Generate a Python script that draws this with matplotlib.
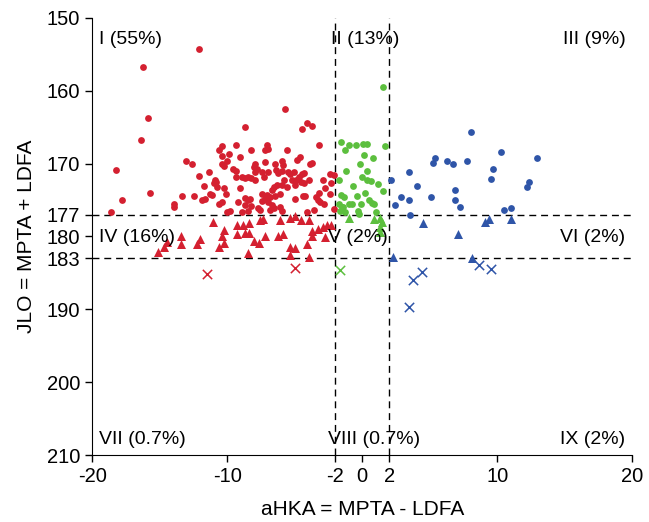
import numpy as np
import matplotlib.pyplot as plt

plt.rcParams['font.family'] = ['Liberation Sans', 'DejaVu Sans']
plt.rcParams['axes.unicode_minus'] = False

# quadrant I: varus-ish, red circles  (aHKA, JLO)
red_dots = [
    (-12.1, 154.3), (-16.25, 156.8), (-15.9, 163.7), (-16.4, 166.8), (-18.2, 170.9),
    (-17.8, 175.0), (-18.6, 176.7), (-5.7, 162.5),
    (-13.08, 169.7), (-12.59, 170.1), (-11.35, 171.2), (-12.1, 171.7), (-11.7, 173.1),
    (-10.86, 172.5), (-10.96, 172.7), (-15.7, 174.1), (-13.38, 174.5), (-12.49, 174.45),
    (-11.85, 175.0), (-11.65, 174.8), (-11.26, 174.2), (-11.11, 174.36), (-13.92, 175.6),
    (-13.97, 176.0),
    (-8.67, 165.0), (-10.4, 167.6), (-10.64, 168.2), (-9.36, 167.4), (-9.85, 168.7),
    (-10.35, 168.96), (-9.06, 169.1), (-8.22, 168.2), (-7.04, 167.5), (-7.19, 168.1),
    (-6.94, 168.0), (-10.0, 169.7), (-10.4, 170.0), (-10.25, 170.4), (-9.6, 170.8),
    (-9.36, 171.0), (-7.93, 170.0), (-8.03, 170.5), (-7.78, 170.8), (-7.93, 171.1),
    (-7.19, 169.8), (-6.45, 170.1), (-6.35, 170.9), (-5.95, 169.6), (-5.85, 170.2),
    (-8.91, 171.8), (-8.67, 172.0), (-8.42, 171.8), (-8.22, 172.0), (-7.93, 172.3),
    (-7.43, 171.2), (-7.24, 171.8), (-6.94, 171.2), (-9.36, 171.8), (-6.2, 171.3),
    (-5.95, 170.97), (-10.89, 172.3), (-10.74, 173.2), (-10.25, 173.3), (-9.06, 173.4),
    (-10.05, 174.2), (-8.67, 174.7), (-8.42, 175.0), (-8.32, 174.8), (-7.43, 174.2),
    (-7.04, 174.3), (-6.69, 173.6), (-6.5, 173.2), (-6.3, 173.0), (-5.95, 173.0),
    (-6.79, 174.6), (-6.45, 174.45), (-6.1, 174.2), (-10.4, 175.3), (-10.64, 175.5),
    (-9.16, 175.3), (-8.67, 175.7), (-8.22, 175.8), (-7.43, 175.1), (-7.19, 174.8),
    (-6.94, 175.3), (-7.68, 176.1), (-7.53, 176.4), (-6.69, 175.7), (-6.54, 176.1),
    (-6.79, 176.4), (-6.05, 175.9), (-5.95, 176.5), (-9.8, 176.5), (-10.0, 176.7),
    (-8.91, 176.7), (-8.42, 176.5),
    (-4.1, 164.4), (-3.7, 164.9), (-4.49, 165.3), (-3.2, 167.5), (-5.6, 168.2),
    (-4.64, 169.1), (-4.79, 169.5), (-3.7, 169.9), (-3.85, 170.1), (-5.5, 171.1),
    (-5.33, 171.4), (-5.08, 171.2), (-4.29, 171.3), (-4.44, 171.5), (-5.77, 172.3),
    (-5.2, 172.2), (-4.88, 172.2), (-4.71, 171.9), (-4.54, 172.5), (-4.29, 172.6),
    (-3.97, 172.2), (-4.98, 172.9), (-2.91, 172.3), (-2.37, 171.4), (-2.12, 171.6),
    (-2.32, 172.7), (-2.76, 173.4), (-3.16, 174.1), (-3.45, 174.6), (-3.3, 175.0),
    (-4.98, 174.9), (-4.39, 174.5), (-4.2, 174.5), (-3.1, 175.3), (-2.86, 175.5),
    (-2.37, 174.2), (-3.6, 176.4), (-4.1, 176.6), (-2.07, 176.3), (-5.58, 173.2),
]
red_tri = [
    (-11.06, 178.0), (-9.3, 178.4), (-8.8, 178.4), (-8.35, 178.1), (-7.56, 177.7),
    (-7.36, 177.6), (-6.1, 177.75), (-5.33, 177.4), (-5.0, 177.2), (-4.55, 177.8),
    (-3.9, 177.8), (-3.24, 179.0), (-2.9, 178.7), (-2.57, 178.4), (-2.32, 178.4),
    (-3.68, 179.2), (-8.67, 179.5), (-8.35, 179.5), (-9.3, 179.7), (-10.27, 179.1),
    (-10.37, 180.0), (-10.27, 180.9), (-10.6, 181.4), (-13.4, 180.0), (-13.4, 181.0),
    (-14.47, 180.7), (-14.67, 181.5), (-15.1, 182.1), (-12.25, 181.0), (-12.0, 180.4),
    (-7.98, 180.6), (-7.63, 180.9), (-7.2, 180.0), (-6.27, 180.0), (-5.83, 179.7),
    (-8.45, 182.3), (-5.33, 181.5), (-4.97, 181.6), (-5.38, 182.6), (-3.9, 182.8),
    (-4.1, 181.0), (-2.77, 180.1), (-3.73, 180.0),
]
red_x = [(-11.5, 185.2), (-4.94, 184.3)]

green_dots = [
    (1.53, 159.5), (-1.58, 167.1), (-1.28, 168.1), (-0.99, 167.4), (-0.44, 167.4),
    (0.1, 167.35), (0.35, 167.3), (1.73, 167.6), (0.15, 168.8), (0.84, 169.3),
    (-0.15, 170.05), (-1.19, 171.0), (0.37, 170.97), (0.0, 171.9), (0.35, 172.3),
    (0.64, 172.4), (1.14, 172.8), (-0.69, 173.1), (1.53, 173.7), (0.2, 174.1),
    (-1.58, 174.3), (-1.38, 174.6), (-0.4, 174.45), (0.54, 175.0), (-1.68, 175.6),
    (-1.43, 175.9), (-0.99, 175.6), (-0.74, 175.6), (-0.1, 175.5), (0.72, 175.4),
    (0.89, 175.6), (-1.63, 176.55), (-1.28, 176.7), (-0.3, 176.5), (-0.2, 176.9),
    (1.04, 176.6), (-1.75, 172.2), (-1.5, 176.0),
]
green_tri = [(-0.94, 177.5), (0.89, 177.65), (1.33, 177.5), (1.46, 178.0), (1.33, 178.7), (1.33, 179.35)]
green_x = [(-1.63, 184.6)]

blue_dots = [
    (2.12, 172.2), (2.42, 175.7), (2.86, 174.6), (3.46, 171.1), (3.5, 175.05),
    (3.56, 177.0), (4.1, 173.1), (5.09, 174.6), (5.28, 169.9), (5.38, 169.3),
    (6.27, 169.7), (6.72, 170.05), (6.91, 173.6), (6.91, 175.0), (7.28, 175.9),
    (7.8, 169.7), (8.1, 165.7), (9.53, 172.1), (9.73, 170.7), (10.32, 168.4),
    (10.52, 176.4), (11.01, 176.15), (12.2, 173.2), (12.35, 172.5), (12.94, 169.2),
]
blue_tri = [(4.54, 178.1), (7.09, 179.7), (9.09, 178.0), (9.43, 177.65), (11.04, 177.65), (2.25, 182.87), (8.17, 183.0)]
blue_x = [(3.46, 189.65), (3.75, 186.0), (4.44, 184.9), (8.62, 183.9), (9.53, 184.5)]

labels = ['I (55%)', 'II (13%)', 'III (9%)', 'IV (16%)', 'V (2%)', 'VI (2%)',
          'VII (0.7%)', 'VIII (0.7%)', 'IX (2%)']

RED = '#d42030'
GREEN = '#5cbf3e'
BLUE = '#2f55a8'

fig = plt.figure(figsize=(6.49, 5.22), dpi=100)
ax = fig.add_axes([0.142, 0.128, 0.832, 0.838])

def pts(ax, data, color, marker, s):
    a = np.array(data)
    if marker == 'x':
        ax.scatter(a[:, 0], a[:, 1], c=color, marker='x', s=s, linewidths=1.1, zorder=3)
    else:
        ax.scatter(a[:, 0], a[:, 1], c=color, marker=marker, s=s, linewidths=0, zorder=3)

pts(ax, red_dots, RED, 'o', 24)
pts(ax, red_tri, RED, '^', 42)
pts(ax, red_x, RED, 'x', 45)
pts(ax, green_dots, GREEN, 'o', 24)
pts(ax, green_tri, GREEN, '^', 42)
pts(ax, green_x, GREEN, 'x', 45)
pts(ax, blue_dots, BLUE, 'o', 24)
pts(ax, blue_tri, BLUE, '^', 42)
pts(ax, blue_x, BLUE, 'x', 45)

for xv in (-2, 2):
    ax.axvline(xv, color='black', ls=(0, (5, 3.5)), lw=1, zorder=2)
for yv in (177, 183):
    ax.axhline(yv, color='black', ls=(0, (5, 3.5)), lw=1, zorder=2)

ax.set_xlim(-20, 20)
ax.set_ylim(210, 150)
ax.set_xticks([-20, -10, -2, 0, 2, 10, 20])
ax.set_yticks([150, 160, 170, 177, 180, 183, 190, 200, 210])
ax.tick_params(labelsize=14.5, direction='out', length=5, width=1)
for sp in ('top', 'right'):
    ax.spines[sp].set_visible(False)

ax.set_xlabel('aHKA = MPTA - LDFA', fontsize=15, labelpad=10)
ax.set_ylabel('JLO = MPTA + LDFA', fontsize=15, labelpad=8)

fs = 14
ax.text(-19.5, 153.0, labels[0], fontsize=fs, va='center', ha='left')
ax.text(0.2, 153.0, labels[1], fontsize=fs, va='center', ha='center')
ax.text(19.5, 153.0, labels[2], fontsize=fs, va='center', ha='right')
ax.text(-19.5, 180.1, labels[3], fontsize=fs, va='center', ha='left')
ax.text(-0.3, 180.1, labels[4], fontsize=fs, va='center', ha='center')
ax.text(19.5, 180.1, labels[5], fontsize=fs, va='center', ha='right')
ax.text(-19.5, 207.9, labels[6], fontsize=fs, va='center', ha='left')
ax.text(0.9, 207.9, labels[7], fontsize=fs, va='center', ha='center')
ax.text(19.5, 207.9, labels[8], fontsize=fs, va='center', ha='right')

fig.savefig('out.png', dpi=100)
